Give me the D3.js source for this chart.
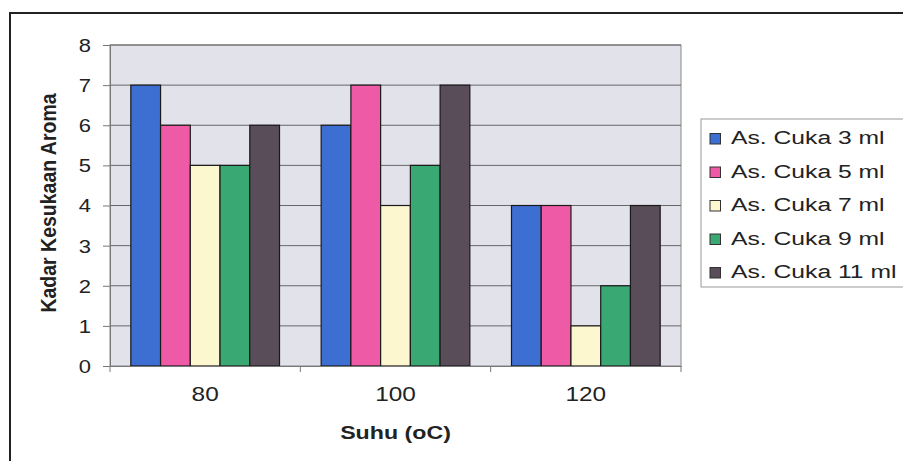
<!DOCTYPE html>
<html>
<head>
<meta charset="utf-8">
<script src="https://cdn.jsdelivr.net/npm/d3@7"></script>
<style>
  html, body { margin: 0; padding: 0; background: #fff; }
  svg { display: block; font-family: Arial, "Liberation Sans", sans-serif; }
</style>
</head>
<body>
<svg id="chart" width="903" height="461"></svg>
<script>
// Temperature categories (x axis)
const categories = ["80", "100", "120"];
// Series: acetic acid volume
const seriesNames = ["As. Cuka 3 ml", "As. Cuka 5 ml", "As. Cuka 7 ml", "As. Cuka 9 ml", "As. Cuka 11 ml"];
const cuka3 = [7, 6, 4];
const cuka5 = [6, 7, 4];
const cuka7 = [5, 4, 1];
const cuka9 = [5, 5, 2];
const cuka11 = [6, 7, 4];
const yTicks = [0, 1, 2, 3, 4, 5, 6, 7, 8];
const colors = ["#3d6ed2", "#ee5aa6", "#fcf7cf", "#3aa873", "#584d58"];

const seriesValues = [cuka3, cuka5, cuka7, cuka9, cuka11];
const rows = categories.map((c, i) => ({
  cat: c,
  vals: seriesValues.map((s, j) => ({ key: seriesNames[j], v: s[i], idx: j }))
}));

// Text in this chart is set in a horizontally widened Arial
const SX = 1.22;

const svg = d3.select("#chart");

// Outer chart frame
svg.append("rect")
  .attr("x", 10).attr("y", 13)
  .attr("width", 905).attr("height", 470)
  .attr("fill", "#fff").attr("stroke", "#222").attr("stroke-width", 2);

const plot = { left: 110, top: 45, right: 681, bottom: 366 };

const x = d3.scaleBand().domain(categories).range([plot.left, plot.right]).paddingInner(0).paddingOuter(0);
const inner = d3.scaleBand().domain(seriesNames).range([0, x.bandwidth()]).paddingOuter(0.7).paddingInner(0);
const y = d3.scaleLinear().domain([0, 8]).range([plot.bottom, plot.top]);

// Plot background
svg.append("rect")
  .attr("x", plot.left).attr("y", plot.top)
  .attr("width", plot.right - plot.left).attr("height", plot.bottom - plot.top)
  .attr("fill", "#e2e2eb").attr("stroke", "#888").attr("stroke-width", 1);

// Horizontal gridlines
svg.append("g")
  .selectAll("line")
  .data(yTicks.filter(t => t > 0))
  .join("line")
  .attr("x1", plot.left).attr("x2", plot.right)
  .attr("y1", d => y(d)).attr("y2", d => y(d))
  .attr("stroke", "#676767").attr("stroke-width", 1);

// Bars
svg.append("g")
  .selectAll("g")
  .data(rows)
  .join("g")
  .attr("transform", d => `translate(${x(d.cat)},0)`)
  .selectAll("rect")
  .data(d => d.vals)
  .join("rect")
  .attr("x", d => inner(d.key))
  .attr("width", inner.bandwidth())
  .attr("y", d => y(d.v))
  .attr("height", d => y(0) - y(d.v))
  .attr("fill", d => colors[d.idx])
  .attr("stroke", "#1a1a1a").attr("stroke-width", 1.2);

// Y axis
const yAxis = svg.append("g")
  .attr("transform", `translate(${plot.left},0)`)
  .call(d3.axisLeft(y).tickValues(yTicks).tickFormat(d3.format("d")).tickSize(7));
yAxis.select(".domain").attr("stroke", "#777");
yAxis.selectAll(".tick line").attr("stroke", "#777");
yAxis.selectAll(".tick text")
  .attr("font-size", 18).attr("fill", "#222")
  .attr("x", -19 / SX).attr("dy", "0.36em")
  .attr("transform", `scale(${SX},1)`);

// X axis
const xAxis = svg.append("g")
  .attr("transform", `translate(0,${plot.bottom})`)
  .call(d3.axisBottom(x).tickSize(0).tickPadding(21));
xAxis.select(".domain").attr("stroke", "#777");
xAxis.selectAll(".tick text")
  .attr("font-size", 20).attr("fill", "#222")
  .attr("transform", `scale(${SX},1)`);
// category separator ticks
svg.append("g")
  .selectAll("line")
  .data(d3.range(categories.length + 1))
  .join("line")
  .attr("x1", i => plot.left + i * x.step())
  .attr("x2", i => plot.left + i * x.step())
  .attr("y1", plot.bottom).attr("y2", plot.bottom + 6)
  .attr("stroke", "#777");

// Axis titles
svg.append("text")
  .attr("transform", `translate(395.5,439) scale(${SX},1)`)
  .attr("text-anchor", "middle")
  .attr("font-size", 19).attr("font-weight", "bold").attr("fill", "#222")
  .text("Suhu (oC)");

svg.append("text")
  .attr("transform", `translate(55.5,203) scale(1.12,1) rotate(-90)`)
  .attr("text-anchor", "middle")
  .attr("font-size", 19.5).attr("font-weight", "bold").attr("fill", "#222")
  .text("Kadar Kesukaan Aroma");

// Legend
const legend = svg.append("g");
legend.append("rect")
  .attr("x", 701).attr("y", 119)
  .attr("width", 230).attr("height", 168)
  .attr("fill", "#fff").attr("stroke", "#9a9a9a").attr("stroke-width", 1);

const items = legend.selectAll("g.item")
  .data(seriesNames)
  .join("g")
  .attr("class", "item")
  .attr("transform", (d, i) => `translate(710,${144 + i * 33.5})`);
items.append("rect")
  .attr("x", 0).attr("y", -10.5)
  .attr("width", 10.5).attr("height", 10.5)
  .attr("fill", (d, i) => colors[i])
  .attr("stroke", "#333").attr("stroke-width", 1);
items.append("text")
  .attr("transform", `translate(21,0) scale(1.3,1)`)
  .attr("font-size", 19).attr("fill", "#222")
  .text(d => d);
</script>
</body>
</html>
